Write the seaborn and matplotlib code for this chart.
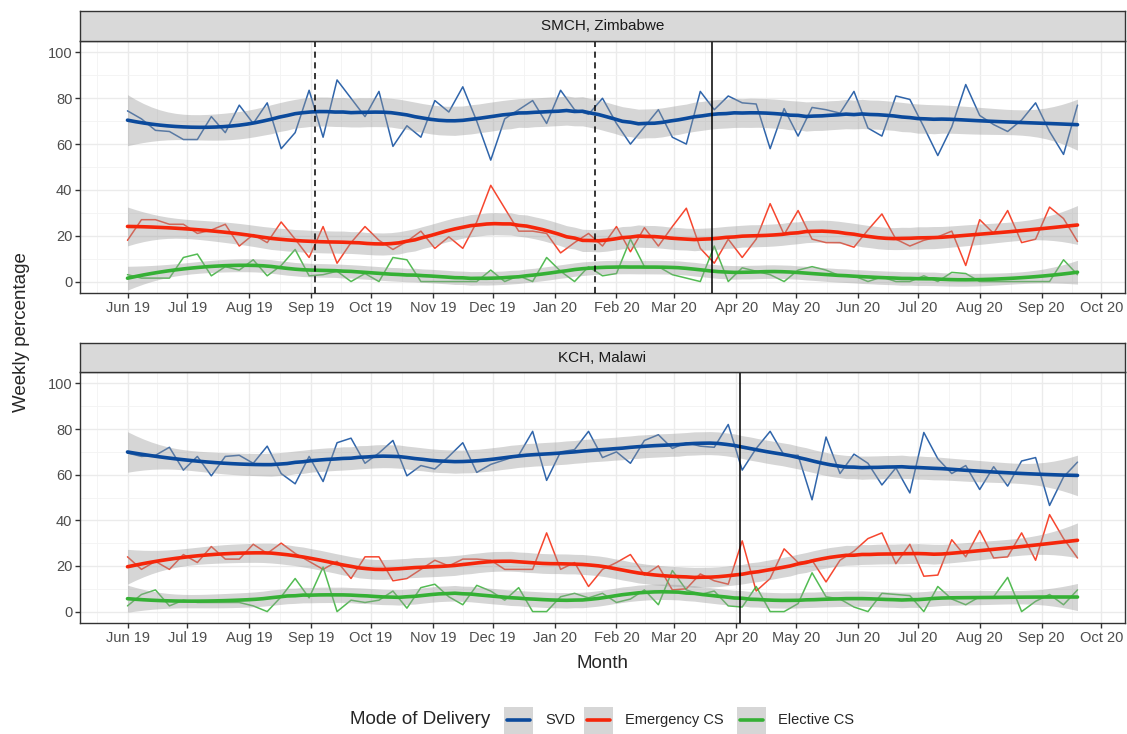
import numpy as np
import pandas as pd
import matplotlib
matplotlib.use("Agg")
import matplotlib.pyplot as plt
import matplotlib.dates as mdates
from matplotlib.lines import Line2D
from matplotlib.patches import Rectangle
import seaborn as sns

sns.set_style("white")
plt.rcParams["font.family"] = ["Liberation Sans", "DejaVu Sans"]

# --- weekly data ---
weeks = pd.date_range("2019-06-01", periods=69, freq="7D")
modes = ["SVD", "Emergency CS", "Elective CS"]
colors = ["#0B4A9C", "#F5260A", "#35B035"]

zim_svd = [74.5, 71, 66, 65.5, 62, 62, 72, 65, 77, 69, 78, 58, 65, 83.5, 63, 88, 80, 72, 83,
           59, 68, 63, 79, 74, 85, 70, 53, 71, 75, 79, 69, 83.5, 75, 73, 80, 69, 60, 67.5, 75,
           63, 60, 83, 75, 81, 78,
           77.5, 58, 75.5, 63.5, 76, 75, 73.5, 83, 67, 63.5, 81, 79.5, 67.5, 55, 67.5, 86, 72.5,
           68.5, 65.5, 70.5, 78, 65.5, 55.5, 77]
zim_ecs = [18, 27, 27, 25, 25, 21, 22.5, 25, 15.5, 20.5, 17, 26, 18.5, 10.5, 24, 8, 17, 24, 18,
           14, 17.5, 22, 14.5, 19.5, 14.5, 26, 42, 32, 22, 22, 21, 12.5, 17, 21, 15.5, 24, 13,
           23.5, 15.5, 24, 32, 14.5, 8, 18.5, 10.5,
           18.5, 34, 20.5, 31, 18.5, 17, 17, 15, 22.5, 29.5, 18.5, 15.5, 18, 19.5, 22, 7, 27, 21,
           31, 17, 18.5, 32.5, 27.5, 17.5]
zim_el = [3, 1.5, 1.5, 1.5, 10.5, 12, 2.5, 6.5, 5, 9.5, 2.5, 7, 14, 2.5, 3, 4.5, 0, 3.5, 0,
          10.5, 9.5, 0, 0, 0, 0, 0, 5, 0, 2.5, 0, 10.5, 4.5, 0, 6.5, 2.5, 3.5, 18.5, 6.5, 6.5,
          3, 1.5, 0, 15.5, 0, 6,
          4.5, 3, 0, 5, 6.5, 5, 2.5, 2.5, 0, 2, 0, 0, 2.5, 0, 4, 3.5, 0, 0, 0, 0, 0, 0, 9.5, 3]

kch_svd = [69.5, 68, 68.5, 72, 62, 68, 59.5, 68, 68.5, 65, 72.5, 60.5, 56, 68, 57, 74, 76, 65, 69.5,
           75, 59.5, 64, 62.5, 68, 74, 61, 64.5, 66.5, 68.5, 79, 57.5, 70, 71, 79, 67.5, 70, 65,
           75, 77.5, 71.5, 74, 72.5, 72, 82, 62,
           71.5, 79, 68.5, 68.5, 49, 76.5, 60.5, 69, 65, 55.5, 63, 52, 78.5, 67, 60.5, 64, 53.5,
           63.5, 55, 66, 67.5, 46.5, 59, 65.5]
kch_ecs = [24, 18.5, 22, 18.5, 25, 21.5, 28.5, 23, 23, 29.5, 25.5, 30, 25.5, 22, 18.5, 22, 14.5, 24, 24,
           13.5, 14.5, 18.5, 22.5, 20, 23, 23, 22.5, 18.5, 18.5, 18.5, 34.5, 18.5, 21.5, 11, 18.5,
           21.5, 25, 16, 20, 9.5, 10, 16.5, 13.5, 12, 31,
           9, 14.5, 27.5, 21.5, 22.5, 13, 22.5, 26.5, 32, 34.5, 21, 29.5, 15.5, 16, 31.5, 24, 35.5,
           23.5, 24, 34.5, 22.5, 42.5, 32, 23.5]
kch_el = [2.5, 7.5, 9.5, 2.5, 5, 4, 4, 4, 4, 2.5, 0, 6.5, 14.5, 6, 19.5, 0, 5, 4, 5,
          9, 1.5, 10.5, 12, 6.5, 3, 11.5, 9, 5, 10.5, 0, 0, 6.5, 8, 6, 8, 4, 5.5, 9.5, 3, 18,
          9.5, 7.5, 9, 2.5, 2,
          11, 0, 0, 3.5, 17, 6.5, 5.5, 2, 0, 8, 7.5, 7, 0, 11, 5.5, 3, 6.5, 6.5, 15, 0, 4.5,
          7.5, 3, 9.5]

sites = ["SMCH, Zimbabwe", "KCH, Malawi"]
site_data = {
    "SMCH, Zimbabwe": [zim_svd, zim_ecs, zim_el],
    "KCH, Malawi": [kch_svd, kch_ecs, kch_el],
}
# intervention lines: (date, style)
vlines = {
    "SMCH, Zimbabwe": [("2019-09-03", "--"), ("2020-01-21", "--"), ("2020-03-20", "-")],
    "KCH, Malawi": [("2020-04-03", "-")],
}

rows = []
for s in sites:
    for m, vals in zip(modes, site_data[s]):
        for d, v in zip(weeks, vals):
            rows.append((s, m, d, v))
df = pd.DataFrame(rows, columns=["site", "mode", "date", "pct"])


def loess(x, y, xs, span=0.32):
    # local quadratic fit with tricube weights, like R's loess
    n = len(x)
    q = int(np.floor(n * span))

    def row(x0):
        d = np.abs(x - x0)
        h = np.sort(d)[q - 1]
        w = (1 - np.clip(d / h, 0, 1) ** 3) ** 3
        X = np.column_stack([np.ones(n), x - x0, (x - x0) ** 2])
        XtW = X.T * w
        return np.linalg.solve(XtW @ X, XtW)[0]

    L = np.array([row(v) for v in x])
    res = y - L @ y
    M = (np.eye(n) - L).T @ (np.eye(n) - L)
    sigma = np.sqrt(res @ res / np.trace(M))
    Ls = np.array([row(v) for v in xs])
    return Ls @ y, sigma * np.sqrt((Ls ** 2).sum(axis=1))


# --- layout (pixel boxes) ---
W, H = 1127, 734
fig = plt.figure(figsize=(W / 100, H / 100), dpi=100)


def box(l, t, r, b):
    return [l / W, 1 - b / H, (r - l) / W, (b - t) / H]


panels = [(box(80, 41, 1125, 293), box(80, 11, 1125, 41)),
          (box(80, 372, 1125, 623), box(80, 343, 1125, 372))]

month_ticks = pd.date_range("2019-06-01", "2020-10-01", freq="MS")
all_months = pd.date_range("2019-05-01", "2020-11-01", freq="MS")
mnum = mdates.date2num(all_months)
minor_x = (mnum[:-1] + mnum[1:]) / 2
span_days = (weeks[-1] - weeks[0]).days
xlo = weeks[0] - pd.Timedelta(days=span_days * 0.05)
xhi = weeks[-1] + pd.Timedelta(days=span_days * 0.05)

wk = np.arange(len(weeks), dtype=float)
wk_grid = np.linspace(0, wk[-1], 120)
grid_dates = weeks[0] + pd.to_timedelta(wk_grid * 7, unit="D")

for s, (pbox, sbox) in zip(sites, panels):
    ax = fig.add_axes(pbox)
    sub = df[df["site"] == s]
    sns.lineplot(data=sub, x="date", y="pct", hue="mode", hue_order=modes,
                 palette=colors, lw=1.1, alpha=0.85, legend=False, ax=ax, zorder=2)
    for m, c in zip(modes, colors):
        y = sub.loc[sub["mode"] == m, "pct"].to_numpy(float)
        fit, se = loess(wk, y, wk_grid)
        ax.fill_between(grid_dates, fit - 2 * se, fit + 2 * se, color="#999999",
                        alpha=0.4, lw=0, zorder=3)
        ax.plot(grid_dates, fit, color=c, lw=2.6, zorder=4)
    for d, ls in vlines[s]:
        ax.axvline(pd.Timestamp(d), color="black", lw=1.1, ls=ls, zorder=5,
                   dashes=(4, 3) if ls == "--" else (None, None))

    ax.set_xlim(xlo, xhi)
    ax.set_ylim(-5, 105)
    ax.set_yticks([0, 20, 40, 60, 80, 100])
    ax.set_yticks([10, 30, 50, 70, 90], minor=True)
    ax.set_xticks(month_ticks)
    ax.set_xticklabels([d.strftime("%b %y") for d in month_ticks])
    ax.xaxis.set_minor_locator(matplotlib.ticker.FixedLocator(minor_x))
    ax.grid(which="major", color="#EBEBEB", lw=1.0)
    ax.grid(which="minor", color="#F3F3F3", lw=0.6)
    ax.set_axisbelow(True)
    ax.tick_params(which="major", length=3.5, width=1, color="#333333",
                   labelcolor="#4D4D4D", labelsize=10.5, pad=2, bottom=True, left=True)
    ax.tick_params(which="minor", length=0)
    ax.set_xlabel("")
    ax.set_ylabel("")
    for sp in ax.spines.values():
        sp.set_color("#333333")
        sp.set_linewidth(1.0)

    sax = fig.add_axes(sbox)
    sax.set_facecolor("#D9D9D9")
    sax.set_xticks([])
    sax.set_yticks([])
    for sp in sax.spines.values():
        sp.set_color("#333333")
        sp.set_linewidth(1.0)
    sax.text(0.5, 0.5, s, ha="center", va="center", fontsize=11, color="#1A1A1A",
             transform=sax.transAxes)

fig.text(22 / W, 1 - 332 / H, "Weekly percentage", rotation=90, ha="center",
         va="center", fontsize=13.5)
fig.text(602 / W, 1 - 663 / H, "Month", ha="center", va="center", fontsize=13.5)

# legend, laid out by hand so the keys are square like ggplot's
fig.text(350 / W, 1 - 720 / H, "Mode of Delivery", ha="left", va="center", fontsize=13.5)
key_left = [504, 584, 737]
for kx, lab, c in zip(key_left, modes, colors):
    fig.add_artist(Rectangle((kx / W, 1 - 734 / H), 29 / W, 27 / H, facecolor="#D6D6D6",
                             edgecolor="none", transform=fig.transFigure))
    fig.add_artist(Line2D([(kx + 3) / W, (kx + 26) / W], [1 - 720 / H, 1 - 720 / H],
                          color=c, lw=2.6, transform=fig.transFigure))
    fig.text((kx + 41) / W, 1 - 720 / H, lab, ha="left", va="center", fontsize=10.5)

fig.savefig("out.png", dpi=100)
